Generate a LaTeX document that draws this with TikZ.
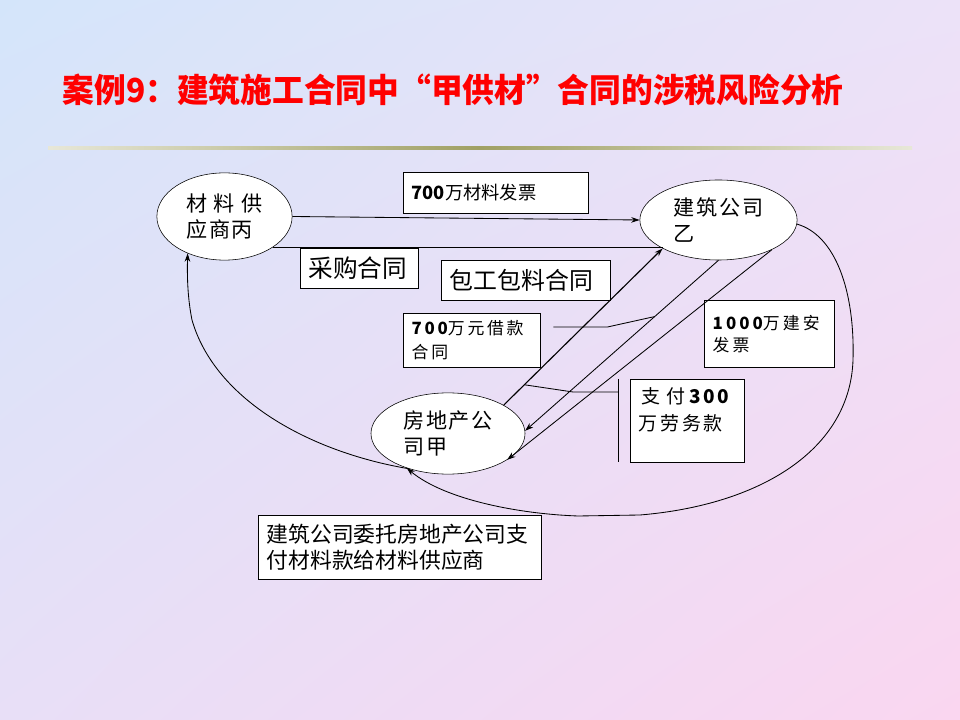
\documentclass[tikz,border=0pt]{standalone}
\usepackage{fontspec}
\setmainfont{Noto Sans CJK SC}
\usetikzlibrary{shapes.geometric, arrows.meta, shadings}
\definecolor{bgtl}{RGB}{212,229,250}
\definecolor{bgtr}{RGB}{236,226,248}
\definecolor{bgbl}{RGB}{232,223,247}
\definecolor{bgbr}{RGB}{250,214,240}
\definecolor{rulecol}{RGB}{160,160,100}

\begin{document}
\begin{tikzpicture}[x=0.025cm, y=-0.025cm,
        party/.style={ellipse, draw=black, fill=white, inner sep=0pt, align=left, font=\fontsize{15}{19}\selectfont\addfontfeature{LetterSpace=8}},
        box/.style={rectangle, draw=black, fill=white, anchor=north west, align=left, inner xsep=6pt, inner ysep=2pt},
        arrow/.style={-{Stealth[length=6pt, width=4pt]}, semithick},
        link/.style={semithick}]

        \shade[upper left=bgtl, upper right=bgtr, lower left=bgbl, lower right=bgbr] (0,0) rectangle (960,720);
        \node (title) [anchor=west, xscale=0.96, text=red, font=\fontsize{23.5}{28}\selectfont\bfseries] at (58,90) {案例9：建筑施工合同中“甲供材”合同的涉税风险分析};
        \shade[left color=rulecol!25, right color=rulecol!25, middle color=rulecol] (48,147) rectangle (912,150);

        \node (supplier) [party, minimum width=3.38cm, minimum height=2.18cm] at (224.5,216.5) {材 料 供\\应商丙};
        \node (builder) [party, minimum width=3.93cm, minimum height=2cm] at (718.5,220) {建筑公司\\乙};
        \node (developer) [party, minimum width=3.85cm, minimum height=2.03cm] at (448,433.5) {房地产公\\司甲};

        \node (invoice) [box, text width=4.2cm, minimum height=1.03cm, font=\fontsize{13}{16}\selectfont] at (403,172) {{\bfseries 700}万材料发票};
        \node (purchase) [box, text width=2.53cm, minimum height=1cm, font=\fontsize{17.5}{20}\selectfont] at (300,248) {采购合同};
        \node (turnkey) [box, text width=3.8cm, minimum height=1cm, font=\fontsize{17}{20}\selectfont] at (441,260) {包工包料合同};
        \node (loan) [box, text width=3cm, minimum height=1.35cm, font=\fontsize{12}{17}\selectfont\addfontfeature{LetterSpace=16}] at (403,313) {{\bfseries 700}万元借款\\合同};
        \node (bill) [box, text width=2.83cm, minimum height=1.68cm, font=\fontsize{12}{16}\selectfont\addfontfeature{LetterSpace=18}] at (704,300) {{\bfseries 1000}万建安\\发票};
        \node (pay) [box, text width=2.43cm, minimum height=2.08cm, font=\fontsize{13.5}{17}\selectfont\addfontfeature{LetterSpace=14}] at (630,379) {\kern2pt 支\kern4pt 付\kern3pt{\bfseries 300}\\\kern2pt 万劳务款\\ \mbox{}};
        \node (note) [box, text width=6.65cm, minimum height=1.6cm, font=\fontsize{15.5}{18.5}\selectfont] at (258,515) {建筑公司委托房地产公司支\\付材料款给材料供应商};

        \draw [arrow] (supplier.east) -- (builder.west);
        \draw [link] (supplier.-32) -- (supplier.-32 -| builder.207);
        \draw [arrow, thick] (developer.27) -- (builder.207);
        \draw [arrow] (builder.south) -- (developer.2);
        \draw [arrow] (builder.-29) -- (developer.-24);

        \path (builder.south) -- (developer.2) coordinate[pos=0.33] (loanpt);
        \path (developer.27) -- (builder.207) coordinate[pos=0.13] (paypt);
        \draw [link] (loan.north east) ++(13,14) -- ++(54,0) -- (loanpt);
        \draw [link] (pay.north west) ++(-12,0) coordinate (bartop) -- ++(0,83);
        \draw [link] (bartop) ++(0,13) -- ++(-45,0) -- (paypt);

        \draw [arrow] (builder.-3) .. controls (835,235) and (855,290) .. (853,360) .. controls (850,450) and (760,505) .. (640,515) -- (578,516) .. controls (520,514) and (445,500) .. (developer.220);
        \draw [arrow] (developer.222) .. controls (310,452) and (215,400) .. (192,320) .. controls (188,300) and (187,280) .. (supplier.225);
    \end{tikzpicture}
\end{document}
